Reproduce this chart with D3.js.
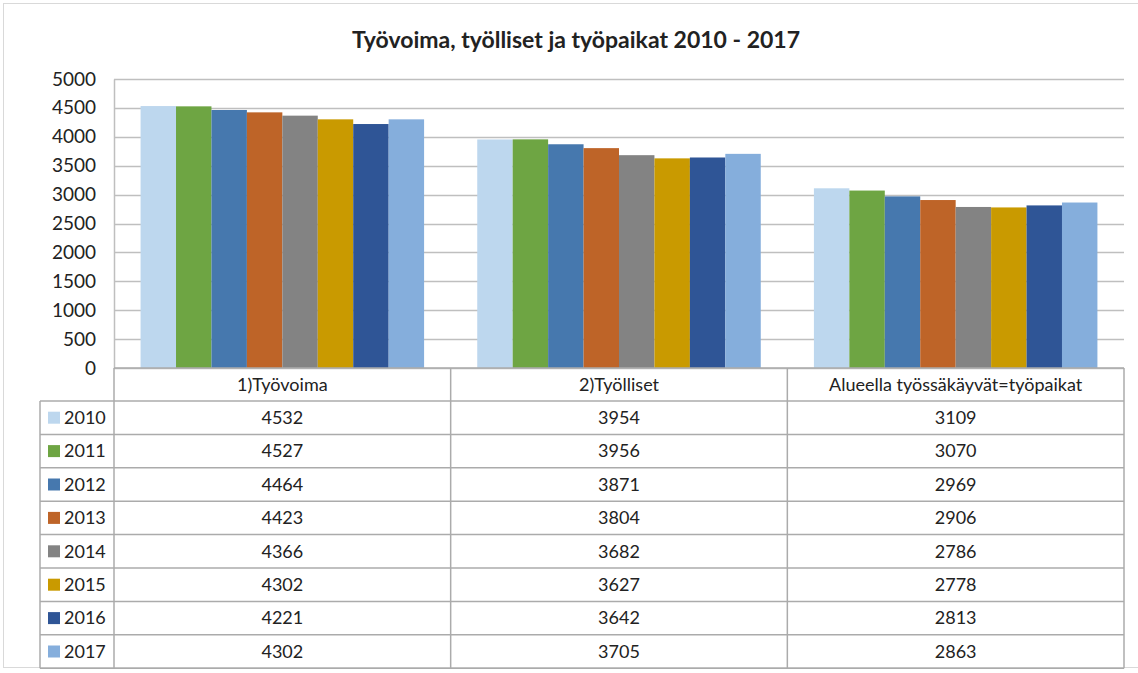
<!DOCTYPE html>
<html>
<head>
<meta charset="utf-8">
<script src="https://cdn.jsdelivr.net/npm/d3@7"></script>
<style>
  body { margin: 0; background: #fff; }
  text { font-family: Lato, "Open Sans", sans-serif; fill: #222; }
</style>
</head>
<body>
<svg id="chart" width="1138" height="673"></svg>
<script>
// data
var categories = ["1)Työvoima", "2)Työlliset", "Alueella työssäkäyvät=työpaikat"];
var years = ["2010", "2011", "2012", "2013", "2014", "2015", "2016", "2017"];
var values = [
  [4532, 3954, 3109],
  [4527, 3956, 3070],
  [4464, 3871, 2969],
  [4423, 3804, 2906],
  [4366, 3682, 2786],
  [4302, 3627, 2778],
  [4221, 3642, 2813],
  [4302, 3705, 2863]
];
var colors = ["#bdd7ee", "#6ea543", "#4678ae", "#be6428", "#838383", "#c99a00", "#2f5596", "#85aedc"];
var yTicks = [0, 500, 1000, 1500, 2000, 2500, 3000, 3500, 4000, 4500, 5000];

var width = 1138, height = 673;
var margin = { top: 79, right: 14, bottom: 305, left: 114 };
var plotBottom = height - margin.bottom; // 368
var headerH = 33, rowH = 33.4;
var legendLeft = 40;

var svg = d3.select("#chart");

// outer frame
svg.append("rect")
  .attr("x", 3.5).attr("y", 3.5)
  .attr("width", width).attr("height", 664)
  .attr("fill", "none").attr("stroke", "#d9d9d9");

// title
svg.append("text")
  .attr("x", 576).attr("y", 48)
  .attr("text-anchor", "middle")
  .style("font-size", "23px").style("font-weight", "bold")
  .text("Työvoima, työlliset ja työpaikat 2010 - 2017");

// scales
var x0 = d3.scaleBand()
  .domain(categories)
  .range([margin.left, width - margin.right]);
var x1 = d3.scaleBand()
  .domain(years)
  .range([0, x0.bandwidth()])
  .paddingOuter(0.75)
  .paddingInner(0);
var y = d3.scaleLinear()
  .domain([0, 5000])
  .range([plotBottom, margin.top]);

// gridlines
svg.append("g")
  .selectAll("line")
  .data(yTicks)
  .enter().append("line")
  .attr("x1", margin.left).attr("x2", width - margin.right)
  .attr("y1", d => Math.round(y(d)) + 0.5).attr("y2", d => Math.round(y(d)) + 0.5)
  .attr("stroke", "#bfbfbf").attr("stroke-width", 1.5);

// y axis
var yAxis = svg.append("g")
  .attr("transform", "translate(" + margin.left + ",0)")
  .call(d3.axisLeft(y).tickValues(yTicks).tickFormat(d3.format("d")).tickSize(0).tickPadding(18));
yAxis.select(".domain").attr("stroke", "#bfbfbf").attr("stroke-width", 1.5);
yAxis.selectAll("text").style("font-size", "19px").style("fill", "#222");

// bars
var groups = svg.append("g")
  .selectAll("g")
  .data(categories)
  .enter().append("g")
  .attr("transform", d => "translate(" + x0(d) + ",0)");

groups.selectAll("rect")
  .data((c, ci) => years.map((yr, yi) => ({ year: yr, value: values[yi][ci], color: colors[yi] })))
  .enter().append("rect")
  .attr("x", d => x1(d.year))
  .attr("width", x1.bandwidth())
  .attr("y", d => y(d.value))
  .attr("height", d => plotBottom - y(d.value))
  .attr("fill", d => d.color);

// data table
var table = svg.append("g");
var tableBottom = plotBottom + headerH + rowH * years.length;
var lineColor = "#ababab";

// horizontal lines
table.append("line")
  .attr("x1", margin.left).attr("x2", width - margin.right)
  .attr("y1", plotBottom).attr("y2", plotBottom)
  .attr("stroke", lineColor).attr("stroke-width", 1.5);
table.selectAll(".hrow")
  .data(d3.range(years.length + 1))
  .enter().append("line")
  .attr("x1", legendLeft).attr("x2", width - margin.right)
  .attr("y1", i => plotBottom + headerH + i * rowH)
  .attr("y2", i => plotBottom + headerH + i * rowH)
  .attr("stroke", lineColor).attr("stroke-width", 1.5);

// vertical lines
var colEdges = categories.map(c => x0(c)).concat([width - margin.right]);
table.selectAll(".vcol")
  .data(colEdges)
  .enter().append("line")
  .attr("x1", d => d).attr("x2", d => d)
  .attr("y1", plotBottom).attr("y2", tableBottom)
  .attr("stroke", lineColor).attr("stroke-width", 1.5);
table.append("line")
  .attr("x1", legendLeft).attr("x2", legendLeft)
  .attr("y1", plotBottom + headerH).attr("y2", tableBottom)
  .attr("stroke", lineColor).attr("stroke-width", 1.5);

// header text
table.selectAll(".hdr")
  .data(categories)
  .enter().append("text")
  .attr("x", d => x0(d) + x0.bandwidth() / 2)
  .attr("y", plotBottom + headerH / 2)
  .attr("dy", "0.35em")
  .attr("text-anchor", "middle")
  .style("font-size", "18px")
  .text(d => d);

// legend cells
var rows = table.selectAll(".row")
  .data(years)
  .enter().append("g")
  .attr("transform", (d, i) => "translate(0," + (plotBottom + headerH + i * rowH) + ")");

rows.append("rect")
  .attr("x", legendLeft + 8).attr("y", rowH / 2 - 6)
  .attr("width", 12).attr("height", 12)
  .attr("fill", (d, i) => colors[i]);
rows.append("text")
  .attr("x", legendLeft + 24).attr("y", rowH / 2)
  .attr("dy", "0.35em")
  .style("font-size", "18px")
  .text(d => d);

rows.selectAll(".val")
  .data((d, i) => categories.map((c, ci) => ({ cat: c, value: values[i][ci] })))
  .enter().append("text")
  .attr("x", d => x0(d.cat) + x0.bandwidth() / 2)
  .attr("y", rowH / 2)
  .attr("dy", "0.35em")
  .attr("text-anchor", "middle")
  .style("font-size", "18px")
  .text(d => d.value);
</script>
</body>
</html>
